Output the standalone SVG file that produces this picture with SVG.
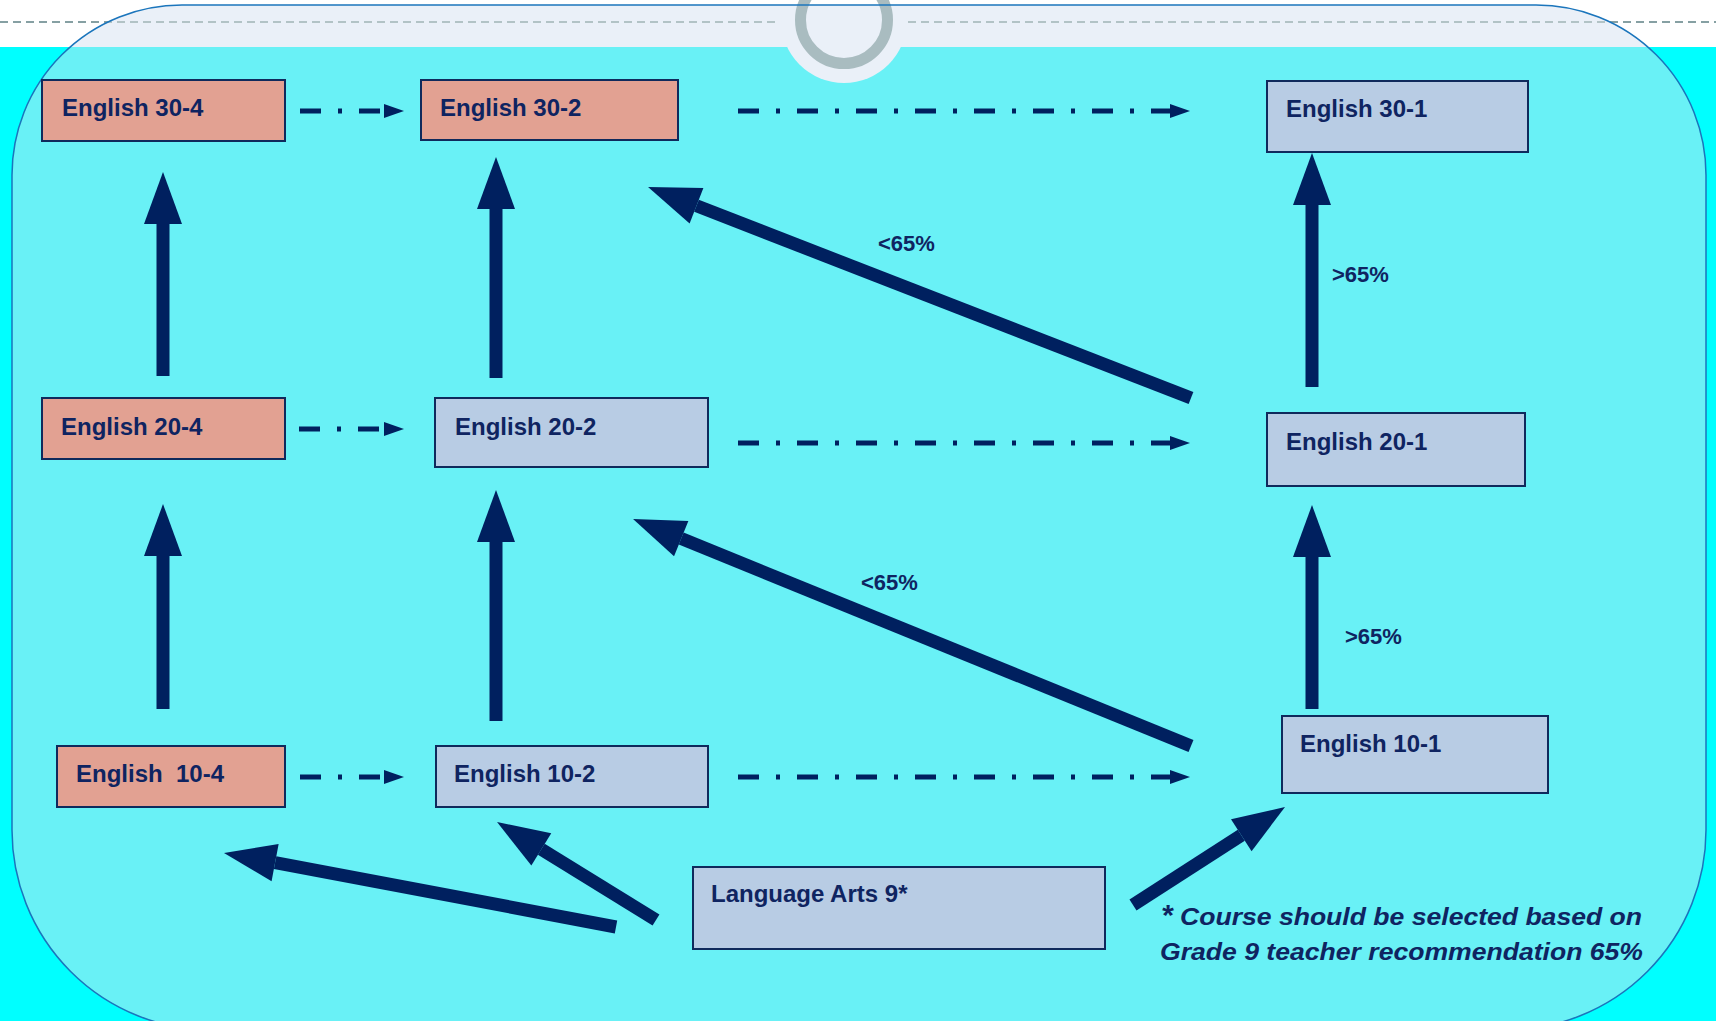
<svg xmlns="http://www.w3.org/2000/svg" width="1716" height="1021" viewBox="0 0 1716 1021">
<style>
.box{stroke:#0F2A5C;stroke-width:2}
.red{fill:#E2A192}
.blue{fill:#B8CCE4}
.lbl{font-family:"Liberation Sans",Arial,sans-serif;font-weight:bold;font-size:24px;fill:#0F2461}
.pct{font-family:"Liberation Sans",Arial,sans-serif;font-weight:bold;font-size:22px;fill:#0F2461}
.note{font-family:"Liberation Sans",Arial,sans-serif;font-weight:bold;font-style:italic;font-size:23px;fill:#0F2461}
.thick{stroke:#00205F;stroke-width:13;fill:none;marker-end:url(#bigHead)}
.dd{stroke:#00205F;stroke-width:5;fill:none;stroke-dasharray:21 17 4 17;marker-end:url(#smallHead)}
</style>
<defs>
<clipPath id="frameClip">
<path d="M182,5 H1536 A170,170 0 0 1 1706,175 V830 A200,200 0 0 1 1506,1030 H212 A200,200 0 0 1 12,830 V175 A170,170 0 0 1 182,5 Z"/>
</clipPath>
<marker id="bigHead" markerUnits="userSpaceOnUse" markerWidth="54" markerHeight="40" refX="0" refY="19" orient="auto" overflow="visible">
<path d="M0,0 L52,19 L0,38 Z" fill="#00205F"/>
</marker>
<marker id="smallHead" markerUnits="userSpaceOnUse" markerWidth="22" markerHeight="14" refX="0" refY="7" orient="auto" overflow="visible">
<path d="M0,0 L20,7 L0,14 Z" fill="#00205F"/>
</marker>
</defs>

<g id="background">
<rect x="0" y="0" width="1716" height="1021" fill="#00FFFF"/>
<rect x="0" y="0" width="1716" height="47" fill="#FFFFFF"/>
<path d="M182,5 H1536 A170,170 0 0 1 1706,175 V830 A200,200 0 0 1 1506,1030 H212 A200,200 0 0 1 12,830 V175 A170,170 0 0 1 182,5 Z" fill="#69F1F6"/>
<g clip-path="url(#frameClip)">
<rect x="0" y="0" width="1716" height="47" fill="#EAF0F8"/>
<circle cx="844" cy="20" r="63" fill="#EAF0F8"/>
</g>
<line x1="0" y1="22" x2="780" y2="22" stroke="#86A0A3" stroke-width="2" stroke-dasharray="8 5"/>
<line x1="908" y1="22" x2="1716" y2="22" stroke="#86A0A3" stroke-width="2" stroke-dasharray="8 5"/>
<g clip-path="url(#frameClip)">
<line x1="0" y1="22" x2="780" y2="22" stroke="#B2C3C6" stroke-width="2" stroke-dasharray="8 5"/>
<line x1="908" y1="22" x2="1716" y2="22" stroke="#B2C3C6" stroke-width="2" stroke-dasharray="8 5"/>
</g>
<circle cx="844" cy="20" r="43.5" fill="none" stroke="#A9BCC0" stroke-width="11"/>
<path d="M182,5 H1536 A170,170 0 0 1 1706,175 V830 A200,200 0 0 1 1506,1030 H212 A200,200 0 0 1 12,830 V175 A170,170 0 0 1 182,5 Z" fill="none" stroke="#1B75BC" stroke-width="1.5"/>
</g>

<g id="connectors">
<line class="thick" x1="163" y1="376" x2="163" y2="224"/>
<line class="thick" x1="163" y1="709" x2="163" y2="556"/>
<line class="thick" x1="496" y1="378" x2="496" y2="209"/>
<line class="thick" x1="496" y1="721" x2="496" y2="542"/>
<line class="thick" x1="1312" y1="387" x2="1312" y2="205"/>
<line class="thick" x1="1312" y1="709" x2="1312" y2="557"/>
<line class="thick" x1="1191" y1="398" x2="696.5" y2="205.8"/>
<line class="thick" x1="1191" y1="746" x2="681.2" y2="538.6"/>
<line class="thick" x1="616" y1="927" x2="275.1" y2="862.6"/>
<line class="thick" x1="656" y1="920" x2="541.3" y2="849.3"/>
<line class="thick" x1="1133" y1="905" x2="1241.3" y2="835.2"/>
<line class="dd" x1="300" y1="111" x2="384" y2="111"/>
<line class="dd" x1="738" y1="111" x2="1170" y2="111"/>
<line class="dd" x1="299" y1="429" x2="384" y2="429"/>
<line class="dd" x1="738" y1="443" x2="1170" y2="443"/>
<line class="dd" x1="300" y1="777" x2="384" y2="777"/>
<line class="dd" x1="738" y1="777" x2="1170" y2="777"/>
<text class="pct" x="878" y="251">&lt;65%</text>
<text class="pct" x="1332" y="282">&gt;65%</text>
<text class="pct" x="861" y="590">&lt;65%</text>
<text class="pct" x="1345" y="644">&gt;65%</text>
</g>

<g id="e304"><rect class="box red" x="42" y="80" width="243" height="61"/><text class="lbl" x="62" y="116">English 30-4</text></g>
<g id="e302"><rect class="box red" x="421" y="80" width="257" height="60"/><text class="lbl" x="440" y="116">English 30-2</text></g>
<g id="e301"><rect class="box blue" x="1267" y="81" width="261" height="71"/><text class="lbl" x="1286" y="117">English 30-1</text></g>
<g id="e204"><rect class="box red" x="42" y="398" width="243" height="61"/><text class="lbl" x="61" y="435">English 20-4</text></g>
<g id="e202"><rect class="box blue" x="435" y="398" width="273" height="69"/><text class="lbl" x="455" y="435">English 20-2</text></g>
<g id="e201"><rect class="box blue" x="1267" y="413" width="258" height="73"/><text class="lbl" x="1286" y="450">English 20-1</text></g>
<g id="e104"><rect class="box red" x="57" y="746" width="228" height="61"/><text class="lbl" x="76" y="782" xml:space="preserve">English  10-4</text></g>
<g id="e102"><rect class="box blue" x="436" y="746" width="272" height="61"/><text class="lbl" x="454" y="782">English 10-2</text></g>
<g id="e101"><rect class="box blue" x="1282" y="716" width="266" height="77"/><text class="lbl" x="1300" y="752">English 10-1</text></g>
<g id="la9"><rect class="box blue" x="693" y="867" width="412" height="82"/><text class="lbl" x="711" y="902">Language Arts 9*</text></g>

<g id="footnote">
<text class="note" x="1161" y="925" style="font-size:30px">*</text>
<text class="note" x="1180" y="925" textLength="462" lengthAdjust="spacingAndGlyphs">Course should be selected based on</text>
<text class="note" x="1160" y="960" textLength="483" lengthAdjust="spacingAndGlyphs">Grade 9 teacher recommendation 65%</text>
</g>
</svg>
